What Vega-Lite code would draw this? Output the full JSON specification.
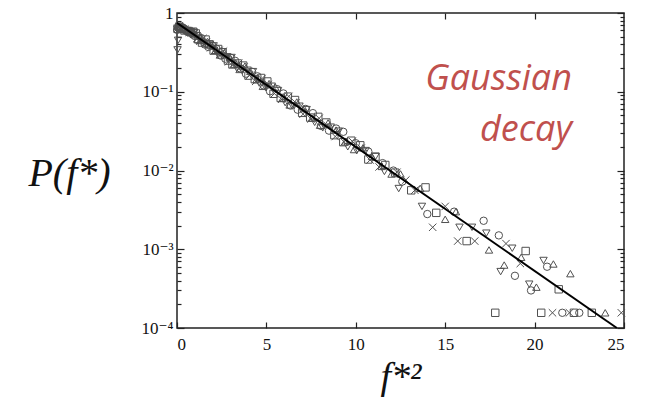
{
  "$schema": "https://vega.github.io/schema/vega-lite/v6.json",
  "width": 447,
  "height": 315,
  "autosize": {"type": "none"},
  "padding": {"left": 177, "top": 13, "right": 21, "bottom": 72},
  "background": "white",
  "config": {
    "view": {"stroke": "#222", "strokeWidth": 1.5},
    "axis": {"grid": false, "domain": false, "tickColor": "#222", "tickWidth": 1.2, "labelFont": "'Liberation Serif', 'DejaVu Serif', serif", "labelFontSize": 16, "labelColor": "#111"}
  },
  "datasets": {
    "pts": [
      {"x":0.02,"y":0.62,"s":"v"},{"x":0.03,"y":0.34,"s":"v"},{"x":0.06,"y":0.45,"s":"v"},{"x":0.1,"y":0.64,"s":"v"},{"x":0.2,"y":0.66,"s":"v"},{"x":0.35,"y":0.63,"s":"v"},{"x":0.55,"y":0.6,"s":"v"},{"x":0.65,"y":0.58,"s":"v"},{"x":0.8,"y":0.536,"s":"v"},{"x":0.95,"y":0.569,"s":"v"},{"x":1.1,"y":0.515,"s":"v"},{"x":1.45,"y":0.414,"s":"v"},{"x":1.65,"y":0.403,"s":"v"},{"x":1.85,"y":0.402,"s":"v"},{"x":2.05,"y":0.382,"s":"v"},{"x":2.3,"y":0.297,"s":"v"},{"x":2.55,"y":0.284,"s":"v"},{"x":2.8,"y":0.278,"s":"v"},{"x":3.05,"y":0.272,"s":"v"},{"x":3.35,"y":0.198,"s":"v"},{"x":3.65,"y":0.186,"s":"v"},{"x":3.95,"y":0.1875,"s":"v"},{"x":4.25,"y":0.18,"s":"v"},{"x":4.6,"y":0.129,"s":"v"},{"x":4.95,"y":0.1135,"s":"v"},{"x":5.3,"y":0.1175,"s":"v"},{"x":5.65,"y":0.1035,"s":"v"},{"x":6.05,"y":0.0728,"s":"v"},{"x":6.45,"y":0.0659,"s":"v"},{"x":6.85,"y":0.0655,"s":"v"},{"x":7.25,"y":0.0593,"s":"v"},{"x":7.7,"y":0.0409,"s":"v"},{"x":8.15,"y":0.0348,"s":"v"},{"x":8.6,"y":0.0355,"s":"v"},{"x":9.05,"y":0.0316,"s":"v"},{"x":9.55,"y":0.02,"s":"v"},{"x":10.05,"y":0.01786,"s":"v"},{"x":10.55,"y":0.0179,"s":"v"},{"x":11.1,"y":0.01503,"s":"v"},{"x":11.6,"y":0.00973,"s":"v"},{"x":12.4,"y":0.0059,"s":"v"},{"x":13.7,"y":0.0035,"s":"v"},{"x":15.8,"y":0.0019,"s":"v"},{"x":16.5,"y":0.0019,"s":"v"},{"x":17.3,"y":0.0016,"s":"v"},{"x":18.1,"y":0.00052,"s":"v"},{"x":18.75,"y":0.00103,"s":"v"},{"x":19.7,"y":0.00036,"s":"v"},{"x":20.5,"y":0.00072,"s":"v"},
      {"x":0.04,"y":0.68,"s":"^"},{"x":0.15,"y":0.66,"s":"^"},{"x":0.3,"y":0.62,"s":"^"},{"x":0.5,"y":0.61,"s":"^"},{"x":0.72,"y":0.57,"s":"^"},{"x":0.85,"y":0.577,"s":"^"},{"x":0.98,"y":0.551,"s":"^"},{"x":1.15,"y":0.461,"s":"^"},{"x":1.3,"y":0.447,"s":"^"},{"x":1.7,"y":0.434,"s":"^"},{"x":1.9,"y":0.394,"s":"^"},{"x":2.15,"y":0.336,"s":"^"},{"x":2.4,"y":0.293,"s":"^"},{"x":2.65,"y":0.315,"s":"^"},{"x":2.95,"y":0.275,"s":"^"},{"x":3.2,"y":0.224,"s":"^"},{"x":3.5,"y":0.192,"s":"^"},{"x":3.8,"y":0.212,"s":"^"},{"x":4.1,"y":0.1816,"s":"^"},{"x":4.45,"y":0.1426,"s":"^"},{"x":4.8,"y":0.1172,"s":"^"},{"x":5.15,"y":0.127,"s":"^"},{"x":5.5,"y":0.1146,"s":"^"},{"x":5.9,"y":0.0824,"s":"^"},{"x":6.3,"y":0.068,"s":"^"},{"x":6.7,"y":0.0741,"s":"^"},{"x":7.1,"y":0.0612,"s":"^"},{"x":7.55,"y":0.0463,"s":"^"},{"x":8.0,"y":0.0376,"s":"^"},{"x":8.45,"y":0.0402,"s":"^"},{"x":8.9,"y":0.0326,"s":"^"},{"x":9.4,"y":0.0231,"s":"^"},{"x":9.9,"y":0.01845,"s":"^"},{"x":10.4,"y":0.0194,"s":"^"},{"x":10.9,"y":0.01507,"s":"^"},{"x":11.45,"y":0.01127,"s":"^"},{"x":12.0,"y":0.00902,"s":"^"},{"x":12.5,"y":0.00904,"s":"^"},{"x":13.6,"y":0.00593,"s":"^"},{"x":15.0,"y":0.0024,"s":"^"},{"x":15.6,"y":0.003,"s":"^"},{"x":17.45,"y":0.00098,"s":"^"},{"x":18.3,"y":0.00063,"s":"^"},{"x":19.25,"y":0.00079,"s":"^"},{"x":20.1,"y":0.00033,"s":"^"},{"x":21.05,"y":0.00065,"s":"^"},{"x":22.0,"y":0.00049,"s":"^"},{"x":23.95,"y":0.000156,"s":"^"},
      {"x":0.03,"y":0.63,"s":"s"},{"x":0.12,"y":0.67,"s":"s"},{"x":0.25,"y":0.64,"s":"s"},{"x":0.42,"y":0.6,"s":"s"},{"x":0.65,"y":0.59,"s":"s"},{"x":0.78,"y":0.57,"s":"s"},{"x":0.9,"y":0.579,"s":"s"},{"x":1.05,"y":0.55,"s":"s"},{"x":1.2,"y":0.463,"s":"s"},{"x":1.4,"y":0.421,"s":"s"},{"x":1.6,"y":0.46,"s":"s"},{"x":1.8,"y":0.399,"s":"s"},{"x":2.05,"y":0.333,"s":"s"},{"x":2.3,"y":0.349,"s":"s"},{"x":2.55,"y":0.318,"s":"s"},{"x":2.85,"y":0.249,"s":"s"},{"x":3.1,"y":0.222,"s":"s"},{"x":3.4,"y":0.2286,"s":"s"},{"x":3.7,"y":0.215,"s":"s"},{"x":4.0,"y":0.1603,"s":"s"},{"x":4.35,"y":0.1445,"s":"s"},{"x":4.7,"y":0.1496,"s":"s"},{"x":5.05,"y":0.135,"s":"s"},{"x":5.4,"y":0.0942,"s":"s"},{"x":5.8,"y":0.0834,"s":"s"},{"x":6.2,"y":0.0867,"s":"s"},{"x":6.6,"y":0.0785,"s":"s"},{"x":7.0,"y":0.054,"s":"s"},{"x":7.45,"y":0.047,"s":"s"},{"x":7.9,"y":0.048,"s":"s"},{"x":8.35,"y":0.0407,"s":"s"},{"x":8.8,"y":0.0281,"s":"s"},{"x":9.3,"y":0.0229,"s":"s"},{"x":9.75,"y":0.0239,"s":"s"},{"x":10.25,"y":0.0209,"s":"s"},{"x":10.7,"y":0.0138,"s":"s"},{"x":11.1,"y":0.015,"s":"s"},{"x":11.65,"y":0.01175,"s":"s"},{"x":12.2,"y":0.0094,"s":"s"},{"x":13.1,"y":0.0056,"s":"s"},{"x":13.9,"y":0.0061,"s":"s"},{"x":14.5,"y":0.0029,"s":"s"},{"x":16.2,"y":0.00127,"s":"s"},{"x":17.8,"y":0.000156,"s":"s"},{"x":19.5,"y":0.00095,"s":"s"},{"x":20.37,"y":0.000156,"s":"s"},{"x":21.35,"y":0.00031,"s":"s"},{"x":22.2,"y":0.000156,"s":"s"},{"x":23.2,"y":0.000156,"s":"s"},
      {"x":0.01,"y":0.61,"s":"o"},{"x":0.08,"y":0.65,"s":"o"},{"x":0.18,"y":0.67,"s":"o"},{"x":0.32,"y":0.65,"s":"o"},{"x":0.5,"y":0.6,"s":"o"},{"x":0.62,"y":0.59,"s":"o"},{"x":0.75,"y":0.58,"s":"o"},{"x":0.88,"y":0.532,"s":"o"},{"x":1.0,"y":0.51,"s":"o"},{"x":1.18,"y":0.512,"s":"o"},{"x":1.35,"y":0.481,"s":"o"},{"x":1.55,"y":0.399,"s":"o"},{"x":1.75,"y":0.371,"s":"o"},{"x":1.98,"y":0.383,"s":"o"},{"x":2.2,"y":0.353,"s":"o"},{"x":2.45,"y":0.288,"s":"o"},{"x":2.7,"y":0.263,"s":"o"},{"x":3.0,"y":0.27,"s":"o"},{"x":3.25,"y":0.247,"s":"o"},{"x":3.55,"y":0.1977,"s":"o"},{"x":3.85,"y":0.1694,"s":"o"},{"x":4.2,"y":0.179,"s":"o"},{"x":4.5,"y":0.157,"s":"o"},{"x":4.85,"y":0.1205,"s":"o"},{"x":5.2,"y":0.1014,"s":"o"},{"x":5.6,"y":0.1079,"s":"o"},{"x":5.95,"y":0.0951,"s":"o"},{"x":6.35,"y":0.0668,"s":"o"},{"x":6.75,"y":0.0592,"s":"o"},{"x":7.2,"y":0.0604,"s":"o"},{"x":7.6,"y":0.0535,"s":"o"},{"x":8.05,"y":0.0369,"s":"o"},{"x":8.5,"y":0.0321,"s":"o"},{"x":8.9,"y":0.0341,"s":"o"},{"x":9.3,"y":0.031,"s":"o"},{"x":10.0,"y":0.0222,"s":"o"},{"x":10.7,"y":0.0174,"s":"o"},{"x":11.5,"y":0.0124,"s":"o"},{"x":12.1,"y":0.00998,"s":"o"},{"x":12.6,"y":0.00724,"s":"o"},{"x":14.0,"y":0.0028,"s":"o"},{"x":15.5,"y":0.003,"s":"o"},{"x":17.15,"y":0.0023,"s":"o"},{"x":18.0,"y":0.0015,"s":"o"},{"x":18.9,"y":0.00046,"s":"o"},{"x":19.8,"y":0.0003,"s":"o"},{"x":20.7,"y":0.0006,"s":"o"},{"x":21.55,"y":0.000156,"s":"o"},{"x":22.5,"y":0.000156,"s":"o"},
      {"x":0.05,"y":0.64,"s":"x"},{"x":0.14,"y":0.69,"s":"x"},{"x":0.27,"y":0.63,"s":"x"},{"x":0.45,"y":0.62,"s":"x"},{"x":0.68,"y":0.57,"s":"x"},{"x":0.82,"y":0.56,"s":"x"},{"x":0.95,"y":0.543,"s":"x"},{"x":1.12,"y":0.4775,"s":"x"},{"x":1.28,"y":0.44,"s":"x"},{"x":1.45,"y":0.475,"s":"x"},{"x":1.65,"y":0.431,"s":"x"},{"x":1.88,"y":0.362,"s":"x"},{"x":2.1,"y":0.334,"s":"x"},{"x":2.35,"y":0.335,"s":"x"},{"x":2.6,"y":0.327,"s":"x"},{"x":2.88,"y":0.2404,"s":"x"},{"x":3.15,"y":0.223,"s":"x"},{"x":3.45,"y":0.23,"s":"x"},{"x":3.75,"y":0.206,"s":"x"},{"x":4.05,"y":0.161,"s":"x"},{"x":4.4,"y":0.1355,"s":"x"},{"x":4.75,"y":0.1469,"s":"x"},{"x":5.1,"y":0.1236,"s":"x"},{"x":5.45,"y":0.0948,"s":"x"},{"x":5.85,"y":0.0802,"s":"x"},{"x":6.25,"y":0.0873,"s":"x"},{"x":6.65,"y":0.0721,"s":"x"},{"x":7.05,"y":0.0519,"s":"x"},{"x":7.5,"y":0.0451,"s":"x"},{"x":7.95,"y":0.046,"s":"x"},{"x":8.4,"y":0.0373,"s":"x"},{"x":8.85,"y":0.027,"s":"x"},{"x":9.35,"y":0.023,"s":"x"},{"x":9.8,"y":0.0235,"s":"x"},{"x":10.3,"y":0.0192,"s":"x"},{"x":10.8,"y":0.0136,"s":"x"},{"x":11.3,"y":0.0111,"s":"x"},{"x":12.3,"y":0.0095,"s":"x"},{"x":12.8,"y":0.00757,"s":"x"},{"x":13.3,"y":0.00562,"s":"x"},{"x":14.3,"y":0.0019,"s":"x"},{"x":15.0,"y":0.0035,"s":"x"},{"x":15.7,"y":0.00127,"s":"x"},{"x":16.65,"y":0.00127,"s":"x"},{"x":18.4,"y":0.00118,"s":"x"},{"x":19.2,"y":0.00066,"s":"x"},{"x":21.0,"y":0.000156,"s":"x"},{"x":21.95,"y":0.000156,"s":"x"},{"x":24.85,"y":0.000156,"s":"x"}
    ],
    "fit": [
      {"x": 0, "y": 0.75},
      {"x": 24.6, "y": 0.0001}
    ],
    "notes": [
      {"t": "Gaussian", "x": 22.09, "y": 0.104},
      {"t": "decay", "x": 22.09, "y": 0.0238}
    ]
  },
  "resolve": {"axis": {"x": "independent", "y": "independent"}},
  "layer": [
    {
      "data": {"name": "pts"},
      "mark": {"type": "point", "filled": false, "color": "#505050", "strokeWidth": 1, "opacity": 1, "size": 55},
      "encoding": {
        "x": {"field": "x", "type": "quantitative", "scale": {"domain": [0, 25], "nice": false, "zero": false},
              "axis": {"orient": "bottom", "values": [0, 5, 10, 15, 20, 25], "tickSize": -6, "labelPadding": 14, "labelFontSize": 17,
                       "title": "f*²", "titleFont": "'Liberation Serif', 'DejaVu Serif', serif", "titleFontStyle": "italic", "titleFontWeight": "normal", "titleFontSize": 38, "titleColor": "#111", "titleBaseline": "alphabetic", "titleY": 60}},
        "y": {"field": "y", "type": "quantitative", "scale": {"type": "log", "domain": [0.0001, 1], "nice": false},
              "axis": {"orient": "left",
                       "values": [0.0001,0.0002,0.0003,0.0004,0.0005,0.0006,0.0007,0.0008,0.0009,0.001,0.002,0.003,0.004,0.005,0.006,0.007,0.008,0.009,0.01,0.02,0.03,0.04,0.05,0.06,0.07,0.08,0.09,0.1,0.2,0.3,0.4,0.5,0.6,0.7,0.8,0.9,1],
                       "labelExpr": "datum.value == 1 ? '1' : datum.value == 0.1 ? '10⁻¹' : datum.value == 0.01 ? '10⁻²' : datum.value == 0.001 ? '10⁻³' : datum.value == 0.0001 ? '10⁻⁴' : ''",
                       "tickSize": {"condition": {"test": "indexof([1,0.1,0.01,0.001,0.0001], datum.value) >= 0", "value": -7}, "value": -4},
                       "labelPadding": 11, "labelFontSize": 17,
                       "title": "P(f*)", "titleFont": "'Liberation Serif', 'DejaVu Serif', serif", "titleFontStyle": "italic", "titleFontWeight": "normal", "titleFontSize": 40, "titleColor": "#111",
                       "titleAngle": 0, "titleAlign": "center", "titleBaseline": "middle", "titleX": -108, "titleY": 160}},
        "shape": {"field": "s", "type": "nominal", "legend": null,
                  "scale": {"domain": ["v", "^", "s", "o", "x"], "range": ["triangle-down", "triangle-up", "square", "circle", "M-1,-1L1,1M-1,1L1,-1"]}}
      }
    },
    {
      "data": {"name": "fit"},
      "mark": {"type": "line", "color": "#000", "strokeWidth": 2},
      "encoding": {
        "x": {"field": "x", "type": "quantitative",
              "axis": {"orient": "top", "values": [5, 10, 15, 20], "tickSize": -6, "labels": false, "title": null}},
        "y": {"field": "y", "type": "quantitative",
              "axis": {"orient": "right",
                       "values": [0.0001,0.0002,0.0003,0.0004,0.0005,0.0006,0.0007,0.0008,0.0009,0.001,0.002,0.003,0.004,0.005,0.006,0.007,0.008,0.009,0.01,0.02,0.03,0.04,0.05,0.06,0.07,0.08,0.09,0.1,0.2,0.3,0.4,0.5,0.6,0.7,0.8,0.9,1],
                       "tickSize": {"condition": {"test": "indexof([1,0.1,0.01,0.001,0.0001], datum.value) >= 0", "value": -7}, "value": -4},
                       "labels": false, "title": null}}
      }
    },
    {
      "data": {"name": "notes"},
      "mark": {"type": "text", "font": "'Open Sans', sans-serif", "fontStyle": "italic", "fontSize": 36, "color": "#c0504d", "align": "right", "baseline": "alphabetic"},
      "encoding": {
        "text": {"field": "t", "type": "nominal"},
        "x": {"field": "x", "type": "quantitative", "axis": null},
        "y": {"field": "y", "type": "quantitative", "axis": null}
      }
    }
  ]
}
